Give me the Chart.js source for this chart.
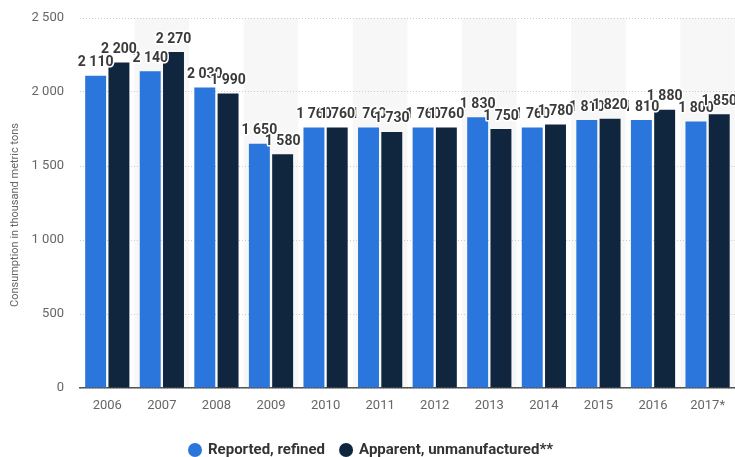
<!DOCTYPE html>
<html>
<head>
<meta charset="utf-8">
<script src="https://cdn.jsdelivr.net/npm/chart.js@4/dist/chart.umd.min.js"></script>
<style>
  html, body { margin: 0; padding: 0; background: #ffffff; }
  #wrap { width: 735px; height: 457px; position: relative; }
</style>
</head>
<body>
<div id="wrap"><canvas id="chart" width="735" height="457"></canvas></div>
<script>
// Consumption in thousand metric tons, by year
const years = ['2006', '2007', '2008', '2009', '2010', '2011', '2012', '2013', '2014', '2015', '2016', '2017*'];
const reportedRefined = [2110, 2140, 2030, 1650, 1760, 1760, 1760, 1830, 1760, 1810, 1810, 1800];
const apparentUnmanufactured = [2200, 2270, 1990, 1580, 1760, 1730, 1760, 1750, 1780, 1820, 1880, 1850];
const yTicks = [0, 500, 1000, 1500, 2000, 2500];
const seriesNames = ['Reported, refined', 'Apparent, unmanufactured**'];
const yTitle = 'Consumption in thousand metric tons';

const BLUE = '#2a76dc';
const NAVY = '#10263f';
const FONT = 'Roboto, "Liberation Sans", sans-serif';

const fmt = n => String(n).replace(/\B(?=(\d{3})+(?!\d))/g, ' ');

// Light stripes behind every second year
const stripes = {
  id: 'stripes',
  beforeDraw(chart) {
    const { ctx, chartArea, scales: { x } } = chart;
    const half = (x.getPixelForValue(1) - x.getPixelForValue(0)) / 2;
    ctx.save();
    ctx.fillStyle = '#f7f7f7';
    years.forEach((_, i) => {
      if (i % 2 === 1) {
        const c = x.getPixelForValue(i);
        ctx.fillRect(c - half, chartArea.top, half * 2, chartArea.bottom - chartArea.top);
      }
    });
    ctx.restore();
  }
};

// Value labels above each bar
const valueLabels = {
  id: 'valueLabels',
  afterDatasetsDraw(chart) {
    const { ctx } = chart;
    ctx.save();
    ctx.font = 'bold 14px ' + FONT;
    ctx.textAlign = 'center';
    ctx.textBaseline = 'middle';
    ctx.lineJoin = 'round';
    chart.data.datasets.forEach((ds, di) => {
      const meta = chart.getDatasetMeta(di);
      meta.data.forEach((bar, i) => {
        const txt = fmt(ds.data[i]);
        const y = bar.y - 13;
        ctx.lineWidth = 3;
        ctx.strokeStyle = '#ffffff';
        ctx.strokeText(txt, bar.x, y);
        ctx.fillStyle = '#3a3a3a';
        ctx.fillText(txt, bar.x, y);
      });
    });
    ctx.restore();
  }
};

// Axis title and legend row
const extras = {
  id: 'extras',
  afterDraw(chart) {
    const { ctx } = chart;
    ctx.save();
    ctx.font = '11px ' + FONT;
    ctx.fillStyle = '#666666';
    ctx.textAlign = 'center';
    ctx.textBaseline = 'middle';
    ctx.translate(15, 215);
    ctx.rotate(-Math.PI / 2);
    ctx.fillText(yTitle, 0, 0);
    ctx.restore();

    ctx.save();
    ctx.font = 'bold 15px ' + FONT;
    ctx.textBaseline = 'middle';
    const r = 7, gap = 6, itemGap = 14, cy = 450;
    const widths = chart.data.datasets.map(ds => 2 * r + gap + ctx.measureText(ds.label).width);
    const total = widths.reduce((a, b) => a + b, 0) + itemGap * (widths.length - 1);
    let x = chart.width / 2 - total / 2 + 3;
    chart.data.datasets.forEach((ds, i) => {
      ctx.fillStyle = ds.backgroundColor;
      ctx.beginPath();
      ctx.arc(x + r, cy, r, 0, Math.PI * 2);
      ctx.fill();
      ctx.fillStyle = '#333333';
      ctx.fillText(ds.label, x + 2 * r + gap, cy + 0.5);
      x += widths[i] + itemGap;
    });
    ctx.restore();
  }
};

new Chart(document.getElementById('chart'), {
  type: 'bar',
  data: {
    labels: years,
    datasets: [
      { label: seriesNames[0], data: reportedRefined, backgroundColor: BLUE },
      { label: seriesNames[1], data: apparentUnmanufactured, backgroundColor: NAVY }
    ]
  },
  options: {
    responsive: false,
    animation: false,
    devicePixelRatio: 1,
    layout: { padding: { top: 18, right: 0, bottom: 39, left: 0 } },
    datasets: { bar: { categoryPercentage: 0.853, barPercentage: 0.9 } },
    plugins: { legend: { display: false }, tooltip: { enabled: false } },
    scales: {
      x: {
        grid: { display: false, drawTicks: false },
        border: { display: true, color: '#555555', width: 1.5 },
        ticks: { color: '#666666', font: { family: FONT, size: 13 }, padding: 10, maxRotation: 0 },
        afterFit(scale) { scale.height = 30; }
      },
      y: {
        min: 0,
        max: 2500,
        afterBuildTicks(scale) { scale.ticks = yTicks.map(v => ({ value: v })); },
        grid: { color: '#cccccc', drawTicks: true, tickLength: 12, tickColor: 'rgba(0,0,0,0)', lineWidth: 1 },
        border: { display: false, dash: [1, 2] },
        ticks: { color: '#666666', font: { family: FONT, size: 13 }, padding: 4, callback: v => fmt(v) },
        afterFit(scale) { scale.width = 80; }
      }
    }
  },
  plugins: [stripes, valueLabels, extras]
});
</script>
</body>
</html>
